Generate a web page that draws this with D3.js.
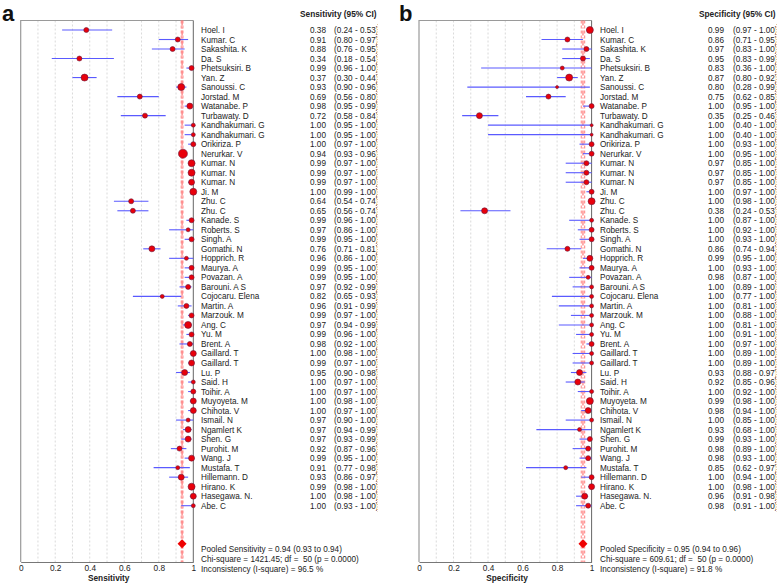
<!DOCTYPE html>
<html><head><meta charset="utf-8">
<script src="https://cdn.jsdelivr.net/npm/d3@7"></script>
<style>body{margin:0;background:#fff}svg{display:block;font-family:"Liberation Sans",Arial,sans-serif}text{white-space:pre}</style>
</head><body><svg id="c" width="778" height="584"></svg>
<script>
const studies = ["Hoel. I","Kumar. C","Sakashita. K","Da. S","Phetsuksiri. B","Yan. Z","Sanoussi. C","Jorstad. M","Watanabe. P","Turbawaty. D","Kandhakumari. G","Kandhakumari. G","Orikiriza. P","Nerurkar. V","Kumar. N","Kumar. N","Kumar. N","Ji. M","Zhu. C","Zhu. C","Kanade. S","Roberts. S","Singh. A","Gomathi. N","Hopprich. R","Maurya. A","Povazan. A","Barouni. A S","Cojocaru. Elena","Martin. A","Marzouk. M","Ang. C","Yu. M","Brent. A","Gaillard. T","Gaillard. T","Lu. P","Said. H","Toihir. A","Muyoyeta. M","Chihota. V","Ismail. N","Ngamlert K","Shen. G","Purohit. M","Wang. J","Mustafa. T","Hillemann. D","Hirano. K","Hasegawa. N.","Abe. C"];

const sens = [0.38,0.91,0.88,0.34,0.99,0.37,0.93,0.69,0.98,0.72,1.00,1.00,1.00,0.94,0.99,0.99,0.99,1.00,0.64,0.65,0.99,0.97,0.99,0.76,0.96,0.99,0.99,0.97,0.82,0.96,0.99,0.97,0.99,0.98,1.00,0.99,0.95,1.00,1.00,1.00,1.00,0.97,0.97,0.97,0.92,0.99,0.91,0.93,0.99,1.00,1.00];
const sensLo = [0.24,0.80,0.76,0.18,0.96,0.30,0.90,0.56,0.95,0.58,0.95,0.95,0.97,0.93,0.97,0.97,0.97,0.99,0.54,0.56,0.96,0.86,0.95,0.71,0.86,0.95,0.95,0.92,0.65,0.91,0.97,0.94,0.96,0.92,0.98,0.97,0.90,0.97,0.97,0.98,0.97,0.90,0.94,0.93,0.87,0.95,0.77,0.86,0.98,0.98,0.93];
const sensHi = [0.53,0.97,0.95,0.54,1.00,0.44,0.96,0.80,0.99,0.84,1.00,1.00,1.00,0.96,1.00,1.00,1.00,1.00,0.74,0.74,1.00,1.00,1.00,0.81,1.00,1.00,1.00,0.99,0.93,0.99,1.00,0.99,1.00,1.00,1.00,1.00,0.98,1.00,1.00,1.00,1.00,1.00,0.99,0.99,0.96,1.00,0.98,0.97,1.00,1.00,1.00];
const sensWeight = [2.5,2.5,2.5,2.5,2.5,3.5,3.5,2.5,3,2.5,2,2,2.5,4.5,3.5,3.5,3,3.5,2.5,2.5,2.5,2,2.5,3,2,2.5,2.5,2.5,2,2.5,2.5,3.5,2.5,2.5,3,3,3,2,2.5,3,3,2,3,3,2.5,3,2,3,3.5,3,2];

const spec = [0.99,0.86,0.97,0.95,0.83,0.87,0.80,0.75,1.00,0.35,1.00,1.00,1.00,1.00,0.97,0.97,0.97,1.00,1.00,0.38,1.00,1.00,1.00,0.86,0.99,1.00,0.98,1.00,1.00,1.00,1.00,1.00,1.00,1.00,1.00,1.00,0.93,0.92,1.00,0.99,0.98,1.00,0.93,0.99,0.98,0.98,0.85,1.00,1.00,0.96,0.98];
const specLo = [0.97,0.71,0.83,0.83,0.36,0.80,0.28,0.62,0.95,0.25,0.40,0.40,0.93,0.95,0.85,0.85,0.85,0.97,0.98,0.24,0.87,0.92,0.93,0.74,0.95,0.93,0.87,0.89,0.77,0.81,0.88,0.81,0.91,0.97,0.89,0.89,0.88,0.85,0.92,0.98,0.94,0.85,0.68,0.93,0.89,0.93,0.62,0.94,0.98,0.91,0.91];
const specHi = [1.00,0.95,1.00,0.99,1.00,0.92,0.99,0.85,1.00,0.46,1.00,1.00,1.00,1.00,1.00,1.00,1.00,1.00,1.00,0.53,1.00,1.00,1.00,0.94,1.00,1.00,1.00,1.00,1.00,1.00,1.00,1.00,1.00,1.00,1.00,1.00,0.97,0.96,1.00,1.00,1.00,1.00,1.00,1.00,1.00,1.00,0.97,1.00,1.00,0.98,1.00];
const specWeight = [3.5,2.5,2.5,2.5,2,3.5,1.5,2.5,2.5,3,1.5,1.5,2.5,2.5,2.5,2.5,2.5,2.5,3.5,3,2,2.5,2.5,2.5,3,2.5,2,2,2,2,2,2,2,2.5,2,2,3,3,2,3.5,3,2,2,2.5,2.5,2.5,2,2.5,3,3,2.5];

const ticks = [0,0.2,0.4,0.6,0.8,1];
const pooledSens = [0.935,0.93,0.94];
const pooledSpec = [0.95,0.94,0.96];
const sensFooter = ["Pooled Sensitivity = 0.94 (0.93 to 0.94)","Chi-square = 1421.45; df =  50 (p = 0.0000)","Inconsistency (I-square) = 96.5 %"];
const specFooter = ["Pooled Specificity = 0.95 (0.94 to 0.96)","Chi-square = 609.61; df =  50 (p = 0.0000)","Inconsistency (I-square) = 91.8 %"];

const svg = d3.select("#c");
const y = d3.scalePoint().domain(d3.range(studies.length)).range([30, 505.7]);
const rScale = d3.scaleLinear().domain([0,1]).range([0,1]);

function panel(opt){
  const g = svg.append("g");
  const x = d3.scaleLinear().domain([0,1]).range([opt.x0, opt.x0+172.6]);
  const top = 20.5, bot = 562;
  const clipId = "clip"+opt.letter;
  svg.append("defs").append("clipPath").attr("id",clipId).append("rect")
    .attr("x",opt.x0).attr("y",0).attr("width",opt.clipX-opt.x0).attr("height",584);
  g.append("text").attr("x",opt.lx).attr("y",20.5).attr("font-size",22).attr("font-weight","bold").attr("fill","#111").text(opt.letter);
  g.selectAll(".grid").data(d3.range(1,10).map(d=>d/10)).join("line")
    .attr("x1",d=>x(d)).attr("x2",d=>x(d)).attr("y1",top).attr("y2",bot)
    .attr("stroke","#d0d0d0").attr("stroke-width",0.8).attr("stroke-dasharray","2,2");
  g.append("path").attr("d",`M${x(0)},${bot}V${top}H${x(1)}`).attr("fill","none").attr("stroke","#9a9a9a").attr("stroke-width",1.2);
  g.append("line").attr("x1",x(1)).attr("x2",x(1)).attr("y1",top).attr("y2",bot).attr("stroke","#666").attr("stroke-width",1);
  const ax = g.append("g").attr("transform",`translate(0,${bot})`)
    .call(d3.axisBottom(x).tickValues(ticks).tickSize(0).tickPadding(3).tickFormat(d3.format("~g")));
  ax.select(".domain").attr("stroke","#777").attr("stroke-width",1.2);
  ax.selectAll("text").attr("font-size",8.3).attr("fill","#222").attr("font-family","Liberation Sans, Arial");
  g.append("text").attr("x",x(0.51)).attr("y",581).attr("text-anchor","middle").attr("font-size",8.3).attr("font-weight","bold").attr("fill","#222").text(opt.axisTitle);
  const pooled = opt.pooled;
  g.append("line").attr("x1",x(pooled[0])).attr("x2",x(pooled[0])).attr("y1",top).attr("y2",bot)
    .attr("stroke","#ff5a5a").attr("stroke-width",1).attr("stroke-dasharray","5,2,1,2");
  [pooled[1],pooled[2]].forEach(v=>{
    g.append("line").attr("x1",x(v)).attr("x2",x(v)).attr("y1",top).attr("y2",bot)
      .attr("stroke","#ff8080").attr("stroke-width",1).attr("stroke-dasharray","3,2");
  });
  const idx = d3.range(studies.length);
  g.selectAll(".ci").data(idx).join("line")
    .attr("x1",i=>x(opt.lo[i])).attr("x2",i=>x(opt.hi[i])).attr("y1",i=>y(i)).attr("y2",i=>y(i))
    .attr("stroke","#5a5aff").attr("stroke-width",1.1);
  g.selectAll(".pt").data(idx).join("circle")
    .attr("cx",i=>x(opt.v[i])).attr("cy",i=>y(i)).attr("r",i=>rScale(opt.w[i]))
    .attr("fill","#e8000b").attr("stroke","#6a1a3a").attr("stroke-width",0.6);
  const py = 543.7, pxc = x(pooled[0]);
  g.append("path").attr("d",`M${pxc-4.5},${py}L${pxc},${py-4.5}L${pxc+4.5},${py}L${pxc},${py+4.5}Z`).attr("fill","#ee0000");
  const tg = g.append("g").attr("font-size",8.2).attr("fill","#222");
  tg.append("text").attr("x",opt.hx).attr("y",17).attr("font-weight","bold").attr("font-size",8.3).text(opt.header);
  tg.selectAll(".nm").data(idx).join("text").attr("x",opt.nx).attr("y",i=>y(i)+3).text(i=>studies[i]);
  tg.selectAll(".vl").data(idx).join("text").attr("x",opt.vx).attr("y",i=>y(i)+3).text(i=>opt.v[i].toFixed(2));
  tg.append("g").attr("clip-path",`url(#${clipId})`).selectAll(".civ").data(idx).join("text")
    .attr("x",opt.cx).attr("y",i=>y(i)+3).text(i=>`(${opt.lo[i].toFixed(2)} - ${opt.hi[i].toFixed(2)})`);
  g.append("line").attr("x1",opt.clipX+0.5).attr("x2",opt.clipX+0.5).attr("y1",24).attr("y2",512)
    .attr("stroke","#d9b98a").attr("stroke-width",0.8).attr("stroke-dasharray","1,1.5");
  tg.selectAll(".ft").data(opt.footer).join("text").attr("x",opt.nx).attr("y",(d,i)=>[552,562,571.5][i]).text(d=>d);
}

panel({letter:"a",lx:2,x0:20.7,v:sens,lo:sensLo,hi:sensHi,w:sensWeight,pooled:pooledSens,header:"Sensitivity (95% CI)",axisTitle:"Sensitivity",
  nx:201,vx:310,cx:334,hx:300,clipX:377,footer:sensFooter});
panel({letter:"b",lx:399,x0:419,v:spec,lo:specLo,hi:specHi,w:specWeight,pooled:pooledSpec,header:"Specificity (95% CI)",axisTitle:"Specificity",
  nx:600,vx:708,cx:733,hx:699,clipX:776,footer:specFooter});
</script></body></html>
